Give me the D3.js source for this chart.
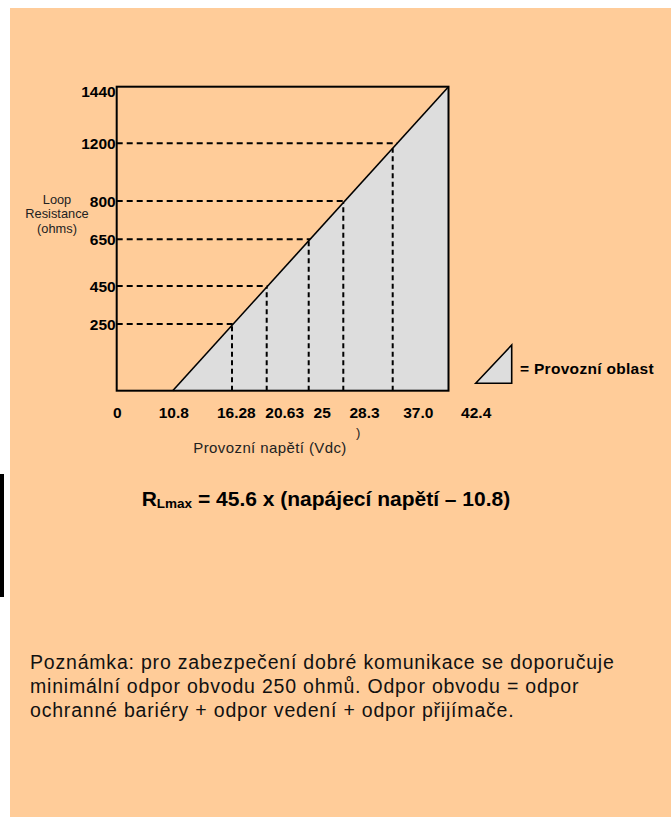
<!DOCTYPE html>
<html>
<head>
<meta charset="utf-8">
<script src="https://cdn.jsdelivr.net/npm/d3@7"></script>
<style>
  body { margin: 0; background: #fff; }
  svg { display: block; font-family: "Liberation Sans", Arial, sans-serif; }
  .tick-label { font-size: 15.5px; font-weight: bold; fill: #000; }
  .guide { fill: none; stroke: #000; stroke-width: 2; }
</style>
</head>
<body>
<svg id="chart" width="671" height="817"></svg>
<script>
// values: R_Lmax = 45.6 x (U - 10.8)
const resistanceTicks = [0, 250, 450, 650, 800, 1200, 1440];
const voltageTicks = [0, 10.8, 16.28, 20.63, 25, 28.3, 37.0, 42.4];
const voltageLabels = ['0', '10.8', '16.28', '20.63', '25', '28.3', '37.0', '42.4'];
const lineVolts = [10.8, 42.4];
const lineOhms = [0, 1440];
const guideOhms = [250, 450, 650, 800, 1200];
const guideVolts = [16.28, 20.63, 25, 28.3, 37.0];
const yTitleLines = ['Loop', 'Resistance', '(ohms)'];
const noteLines = [
  'Poznámka: pro zabezpečení dobré komunikace se doporučuje',
  'minimální odpor obvodu 250 ohmů. Odpor obvodu = odpor',
  'ochranné bariéry + odpor vedení + odpor přijímače.'
];

const svg = d3.select('#chart');

// the drawing is schematic, so both axes are piecewise linear
const y = d3.scaleLinear().domain(resistanceTicks)
  .range([390.7, 324, 286, 239.3, 201, 143.3, 86.7]);
const x = d3.scaleLinear().domain(voltageTicks)
  .range([116.7, 172.7, 232, 266.7, 308.7, 343.3, 392.7, 448.5]);
// tick labels sit a little right of their guide lines in the original
const xLabel = d3.scaleLinear().domain(voltageTicks)
  .range([117.3, 173.8, 236.3, 284.7, 322.2, 364.5, 418.3, 476.2]);

svg.append('rect').attr('x', 10).attr('y', 8).attr('width', 661).attr('height', 809)
  .attr('fill', '#ffcc99');
svg.append('rect').attr('x', 0).attr('y', 474).attr('width', 4).attr('height', 123)
  .attr('fill', '#000');

const pts = lineVolts.map((v, i) => ({ v, r: lineOhms[i] }));
const x0 = x(pts[0].v), x1 = x(pts[1].v);
const yb = y(pts[0].r), yt = y(pts[1].r);
// pixel position on the operating line
const lineXAt = (py) => x0 + (py - yb) * (x1 - x0) / (yt - yb);
const lineYAt = (px) => yb + (px - x0) * (yt - yb) / (x1 - x0);

// operating area
const area = d3.area().x(d => x(d.v)).y0(y(0)).y1(d => y(d.r));
svg.append('path').datum(pts).attr('d', area).attr('fill', '#dddddd');

// dashed guides
svg.append('g').selectAll('line').data(guideOhms).join('line')
  .attr('class', 'guide')
  .attr('x1', x(0)).attr('x2', d => lineXAt(y(d)))
  .attr('y1', d => y(d)).attr('y2', d => y(d))
  .attr('stroke-dasharray', '6,4');
svg.append('g').selectAll('line').data(guideVolts).join('line')
  .attr('class', 'guide')
  .attr('x1', d => x(d)).attr('x2', d => x(d))
  .attr('y1', y(0)).attr('y2', d => lineYAt(x(d)))
  .attr('stroke-dasharray', '5,3.5');

// frame
svg.append('rect')
  .attr('x', x(0)).attr('y', y(1440))
  .attr('width', x(42.4) - x(0)).attr('height', y(0) - y(1440))
  .attr('fill', 'none').attr('stroke', '#000').attr('stroke-width', 2);

// operating line
svg.append('path').datum(pts)
  .attr('d', d3.line().x(d => x(d.v)).y(d => y(d.r)))
  .attr('fill', 'none').attr('stroke', '#000').attr('stroke-width', 1.6);

// y tick labels
svg.append('g').selectAll('text').data(resistanceTicks.filter(d => d > 0)).join('text')
  .attr('class', 'tick-label')
  .attr('text-anchor', 'end')
  .attr('x', x(0) - 1)
  .attr('y', d => y(d) + (d === 1440 ? 10 : 5.6))
  .text(d => d);

// x tick labels
svg.append('g').selectAll('text').data(voltageTicks).join('text')
  .attr('class', 'tick-label')
  .attr('text-anchor', 'middle')
  .attr('x', d => xLabel(d))
  .attr('y', 417.7)
  .text((d, i) => voltageLabels[i]);

// axis titles
svg.append('g').selectAll('text').data(yTitleLines).join('text')
  .attr('text-anchor', 'middle')
  .attr('x', 57)
  .attr('y', (d, i) => 203.5 + i * 14.8)
  .attr('font-size', 12.8).attr('fill', '#222')
  .text(d => d);
svg.append('text').attr('x', 193.3).attr('y', 453)
  .attr('font-size', 15).attr('letter-spacing', 0.4).attr('fill', '#222')
  .text('Provozní napětí (Vdc)');
svg.append('text').attr('x', 356).attr('y', 437)
  .attr('font-size', 13).attr('fill', '#222').text(')');

// legend
const legend = svg.append('g');
legend.append('path')
  .attr('d', 'M475.7,383.3L511.7,345L511.7,383.3Z')
  .attr('fill', '#dddddd').attr('stroke', '#000').attr('stroke-width', 1.6);
legend.append('text').attr('x', 520).attr('y', 374.3)
  .attr('font-size', 15.5).attr('letter-spacing', 0.3).attr('font-weight', 'bold')
  .text('= Provozní oblast');

// formula
const formula = svg.append('text').attr('x', 141.7).attr('y', 506)
  .attr('font-weight', 'bold').attr('font-size', 21);
formula.append('tspan').text('R');
formula.append('tspan').attr('font-size', 13.5).attr('dy', 2).text('Lmax');
formula.append('tspan').attr('dy', -2).text(' = 45.6 x (napájecí napětí – 10.8)');

// note
svg.append('g').selectAll('text').data(noteLines).join('text')
  .attr('x', 30)
  .attr('y', (d, i) => 669.3 + i * 23.8)
  .attr('font-size', 19.5).attr('letter-spacing', 0.8).attr('fill', '#111')
  .text(d => d);
</script>
</body>
</html>
